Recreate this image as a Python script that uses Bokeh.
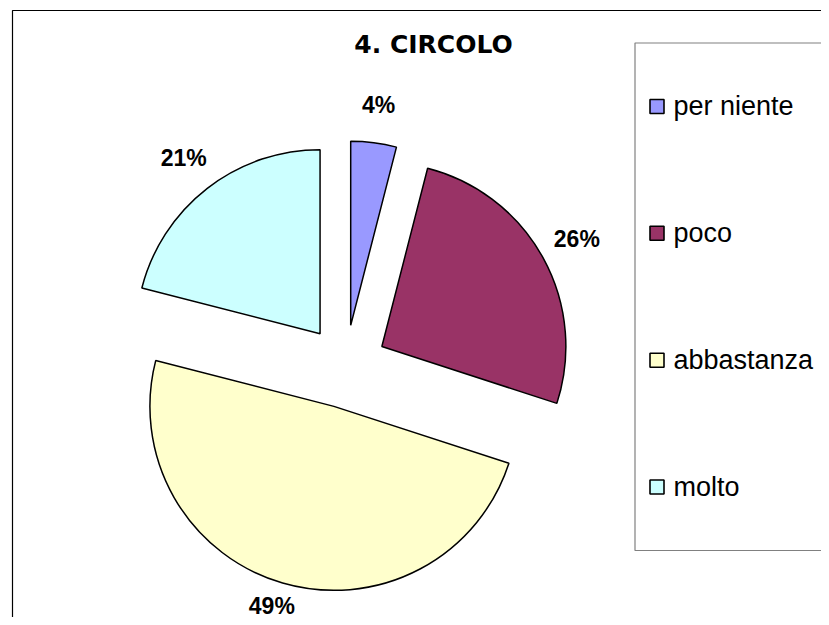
import math
from bokeh.plotting import figure
from bokeh.models import Range1d, ColumnDataSource
from bokeh.embed import file_html
from bokeh.resources import INLINE
from bokeh.core.properties import value

# ---- data ----
chart_title = "4. CIRCOLO"
categories = ["per niente", "poco", "abbastanza", "molto"]
percents = [4, 26, 49, 21]
colors = ["#9999FF", "#993366", "#FFFFCC", "#CCFFFF"]

# ---- geometry (pixels) ----
W, H = 821, 617
CX, CY = 345, H - 366    # pie centre
R = 184                  # radius
EXPLODE = 41.5           # explosion offset
LABEL_R = 264            # label distance

p = figure(width=W, height=H, output_backend="svg", toolbar_location=None,
           x_range=Range1d(0, W), y_range=Range1d(0, H), min_border=0)
p.axis.visible = False
p.grid.visible = False
p.outline_line_color = None
p.background_fill_color = "white"
p.border_fill_color = "white"

# outer chart frame (right/bottom edges lie outside the view)
p.quad(left=[12], right=[W + 20], bottom=[-20], top=[H - 10],
       fill_color=None, line_color="black", line_width=1.2)

# ---- pie slices ----
total = sum(percents)
xs, ys, starts, ends, lx, ly, labels = [], [], [], [], [], [], []
cum = 0.0
for pc in percents:
    a0 = 90 - cum / total * 360
    a1 = a0 - pc / total * 360
    mid = math.radians((a0 + a1) / 2)
    xs.append(CX + EXPLODE * math.cos(mid))
    ys.append(CY + EXPLODE * math.sin(mid))
    starts.append(math.radians(a1))
    ends.append(math.radians(a0))
    lx.append(CX + LABEL_R * math.cos(mid))
    ly.append(max(CY + LABEL_R * math.sin(mid), 12))
    labels.append(f"{pc}%")
    cum += pc

src = ColumnDataSource(dict(x=xs, y=ys, start=starts, end=ends, color=colors))
p.wedge(x="x", y="y", radius=R, start_angle="start", end_angle="end",
        direction="anticlock", fill_color="color", line_color="black",
        line_width=1.5, source=src)

p.text(x=lx, y=ly, text=labels, text_font=value("Liberation Sans"),
       text_font_style="bold", text_font_size="23px", text_align="center",
       text_baseline="middle", text_color="black")

# ---- title ----
p.text(x=[433], y=[H - 44], text=[chart_title], text_font=value("DejaVu Sans"),
       text_font_style="bold", text_font_size="25px", text_align="center",
       text_baseline="middle", text_color="black")

# ---- legend ----
LB_LEFT, LB_TOP, LB_BOTTOM = 634.5, H - 42.5, H - 550
p.quad(left=[LB_LEFT], right=[W + 20], bottom=[LB_BOTTOM], top=[LB_TOP],
       fill_color="white", line_color="#808080", line_width=1.2)
step = (LB_TOP - LB_BOTTOM) / len(categories)
row_y = [LB_TOP - step * (i + 0.5) for i in range(len(categories))]
p.rect(x=[656.5] * len(categories), y=row_y, width=14, height=14,
       fill_color=colors, line_color="black", line_width=1.6)
p.text(x=[673] * len(categories), y=row_y, text=categories,
       text_font=value("Liberation Sans"), text_font_size="27px",
       text_align="left", text_baseline="middle", text_color="black")

open("out.html", "w").write(file_html(p, INLINE))
